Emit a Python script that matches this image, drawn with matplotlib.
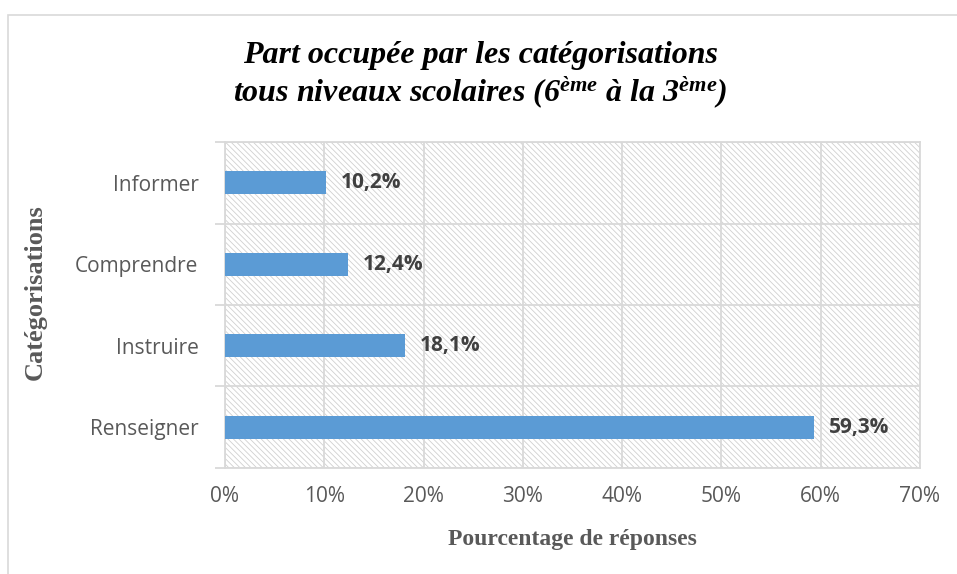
import numpy as np
import matplotlib.pyplot as plt
from matplotlib.patches import Rectangle
from matplotlib.ticker import FixedLocator, PercentFormatter

# Data
categories = ["Renseigner", "Instruire", "Comprendre", "Informer"]
values = [59.3, 18.1, 12.4, 10.2]
value_labels = ["59,3%", "18,1%", "12,4%", "10,2%"]
x_ticks = [0, 10, 20, 30, 40, 50, 60, 70]

plt.rcParams['mathtext.fontset'] = 'custom'
plt.rcParams['mathtext.it'] = 'Liberation Serif:italic:bold'
plt.rcParams['mathtext.rm'] = 'Liberation Serif:italic:bold'
plt.rcParams['hatch.linewidth'] = 0.6
plt.rcParams['hatch.color'] = '#d0d0d0'

fig = plt.figure(figsize=(9.57, 5.74), dpi=100)
ax = fig.add_axes([0.2351, 0.1847, 0.7262, 0.5679])

# outer frame of the chart
fig.patches.append(Rectangle((8 / 957, -0.05), 1.2, 1 - 15 / 574 + 0.05,
                             transform=fig.transFigure, fill=False,
                             edgecolor='#d9d9d9', linewidth=1.2))

# hatched plot area
ax.set_facecolor('white')
ax.add_patch(Rectangle((0, 0), 1, 1, transform=ax.transAxes, facecolor='white',
                       edgecolor='#d0d0d0', hatch='\\' * 6, linewidth=0, zorder=0))

y = np.arange(len(categories))
ax.barh(y, values, height=0.28, color='#5b9bd5', zorder=3)

for yi, v, lab in zip(y, values, value_labels):
    ax.text(v + 1.5, yi, lab, va='center', ha='left', fontsize=15,
            fontweight='bold', color='#404040', family='Open Sans', zorder=4)

ax.set_xlim(0, 70)
ax.set_ylim(-0.5, len(categories) - 0.5)
ax.xaxis.set_major_locator(FixedLocator(x_ticks))
ax.xaxis.set_major_formatter(PercentFormatter(decimals=0))
ax.set_yticks(y)
ax.set_yticklabels(categories)
ax.yaxis.set_minor_locator(FixedLocator(np.arange(-0.5, len(categories), 1.0)))

ax.tick_params(axis='x', length=0, pad=13, labelsize=15, labelcolor='#595959')
ax.tick_params(axis='y', which='major', length=0, pad=19, labelsize=15, labelcolor='#595959')
ax.tick_params(axis='y', which='minor', length=7, color='#d9d9d9', width=1.3)
for lab in ax.get_xticklabels() + ax.get_yticklabels():
    lab.set_family('Open Sans')

ax.grid(axis='x', color='#d9d9d9', linewidth=1.3, zorder=1)
ax.grid(axis='y', which='minor', color='#d9d9d9', linewidth=1.3, zorder=1)
ax.set_axisbelow(True)
for s in ax.spines.values():
    s.set_color('#d9d9d9')
    s.set_linewidth(1.3)

ax.set_xlabel("Pourcentage de réponses", family='Liberation Serif', fontweight='bold',
              fontsize=17, color='#595959', labelpad=16)
ax.set_ylabel("Catégorisations", family='Liberation Serif', fontweight='bold',
              fontsize=19, color='#595959')
ax.yaxis.set_label_coords(-0.256, 0.54)

fig.text(0.502, 0.904, "Part occupée par les catégorisations", ha='center', va='center',
         family='Liberation Serif', style='italic', fontweight='bold', fontsize=23)
fig.text(0.502, 0.838, r"tous niveaux scolaires (6$^{ème}$ à la 3$^{ème}$)", ha='center',
         va='center', family='Liberation Serif', style='italic', fontweight='bold', fontsize=23)

fig.savefig("out.png", dpi=100)
